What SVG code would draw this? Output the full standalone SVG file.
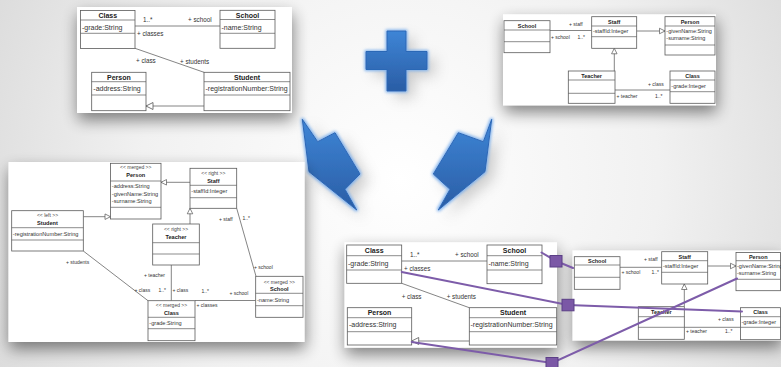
<svg xmlns="http://www.w3.org/2000/svg" width="781" height="367" viewBox="0 0 781 367">
  <defs>
    <radialGradient id="bg" cx="400" cy="180" r="470" gradientUnits="userSpaceOnUse">
      <stop offset="0" stop-color="#ffffff"/>
      <stop offset="0.55" stop-color="#f1f1f1"/>
      <stop offset="1" stop-color="#d9d9d9"/>
    </radialGradient>
    <linearGradient id="blue" x1="0" y1="0" x2="0" y2="1">
      <stop offset="0" stop-color="#3e85d6"/>
      <stop offset="1" stop-color="#2a5da5"/>
    </linearGradient>
    <filter id="panelShadow" x="-20%" y="-20%" width="140%" height="150%">
      <feGaussianBlur in="SourceAlpha" stdDeviation="8"/>
      <feOffset dx="1" dy="7"/>
      <feComponentTransfer><feFuncA type="linear" slope="0.48"/></feComponentTransfer>
      <feMerge><feMergeNode/><feMergeNode in="SourceGraphic"/></feMerge>
    </filter>
    <filter id="halo" x="-30%" y="-30%" width="160%" height="160%">
      <feMorphology in="SourceAlpha" operator="dilate" radius="1" result="d"/>
      <feGaussianBlur in="d" stdDeviation="1.8" result="b"/>
      <feFlood flood-color="#7fb2ee"/>
      <feComposite in2="b" operator="in"/>
      <feMerge><feMergeNode/><feMergeNode in="SourceGraphic"/></feMerge>
    </filter>
    <filter id="soft" x="-50%" y="-50%" width="200%" height="200%">
      <feGaussianBlur stdDeviation="7"/>
    </filter>
    <marker id="gen7" markerUnits="userSpaceOnUse" markerWidth="9" markerHeight="9" refX="7" refY="3.5" orient="auto" overflow="visible">
      <path d="M0,0 L7,3.5 L0,7 Z" fill="#fff" stroke="#555" stroke-width="0.8"/>
    </marker>
    <marker id="gen5" markerUnits="userSpaceOnUse" markerWidth="7" markerHeight="7" refX="5.5" refY="2.75" orient="auto" overflow="visible">
      <path d="M0,0 L5.5,2.75 L0,5.5 Z" fill="#fff" stroke="#555" stroke-width="0.7"/>
    </marker>
    <style>
      .panel { fill: #ffffff; }
      .box { fill: #ffffff; stroke: #5a5a5a; stroke-width: 0.8; }
      .sep { fill: none; stroke: #5a5a5a; stroke-width: 0.7; }
      .ln { fill: none; stroke: #666; stroke-width: 0.8; }
      text { font-family: "Liberation Sans", Arial, sans-serif; fill: #333; }
      .ti { font-weight: bold; text-anchor: middle; fill: #222; }
      .st { text-anchor: middle; fill: #444; }
      .big .ti, .big .at { font-size: 7px; }
      .big .lb { font-size: 6.3px; }
      .sm .ti, .sm .at { font-size: 5.5px; }
      .sm .lb { font-size: 5px; }
      .mid .ti, .mid .at { font-size: 5.6px; }
      .mid .st { font-size: 5px; }
      .mid .lb { font-size: 5px; }
      .trace { fill: none; stroke: #7d5ca9; stroke-width: 2; stroke-linecap: round; }
      .pin { fill: #7b58a6; stroke: #5b3f86; stroke-width: 1; }
      .shape { fill: url(#blue); stroke: #2b67b6; stroke-width: 1; }
    </style>
  </defs>

  <!-- backdrop -->
  <rect x="0" y="0" width="781" height="367" fill="url(#bg)"/>

  <!-- soft grey shading under the blue symbols -->
  <g opacity="0.35" filter="url(#soft)">
    <path d="M310,125 L330,148 L345,140 L369,181 L354,196 L364,218 L317,179 Z" fill="#777"/>
    <path d="M500,125 L492,148 L466,140 L441,181 L458,196 L446,218 L493,179 Z" fill="#777"/>
    <path d="M395,38 H414 V58 H435 V76 H414 V98 H395 V76 H374 V58 H395 Z" fill="#777"/>
  </g>

  <!-- plus and the two merge arrows -->
  <g id="plus" filter="url(#halo)">
    <path class="shape" d="M387,31 H406 V51.5 H427 V69.5 H406 V91 H387 V69.5 H366 V51.5 H387 Z"/>
  </g>
  <g id="arrow-left" filter="url(#halo)">
    <path class="shape" d="M302.3,119.3 L317.7,141.7 L335,132.7 L360,174 L345,189.3 L356.7,210 L309,171.7 Z"/>
  </g>
  <g id="arrow-right" filter="url(#halo)">
    <path class="shape" d="M491.7,119.3 L483.3,141.7 L458.3,132.7 L433.3,174 L450,189.3 L438.3,210 L485,171.7 Z"/>
  </g>

  <!-- ===== left source model ===== -->
  <g id="model-left" class="big">
    <rect class="panel" x="77" y="7" width="215" height="106" filter="url(#panelShadow)"/>
    <g id="p1-connectors">
      <path class="ln" d="M135,26 H220"/>
      <path class="ln" d="M135,48.3 L204,72.3"/>
      <path class="ln" d="M204,106 H146" marker-end="url(#gen7)"/>
      <text class="lb" x="143" y="22">1..*</text>
      <text class="lb" x="188" y="22">+ school</text>
      <text class="lb" x="137" y="35.5">+ classes</text>
      <text class="lb" x="136" y="63">+ class</text>
      <text class="lb" x="180" y="64">+ students</text>
    </g>
    <g id="p1-class">
      <rect class="box" x="80.5" y="10.5" width="54.5" height="38"/>
      <path class="sep" d="M80.5,20 h54.5 M80.5,33.3 h54.5"/>
      <text class="ti" x="107.75" y="17.8">Class</text>
      <text class="at" x="82" y="29.5">-grade:String</text>
    </g>
    <g id="p1-school">
      <rect class="box" x="220" y="10.3" width="55" height="38"/>
      <path class="sep" d="M220,19.5 h55 M220,33.3 h55"/>
      <text class="ti" x="247.5" y="17.5">School</text>
      <text class="at" x="221.5" y="29.5">-name:String</text>
    </g>
    <g id="p1-person">
      <rect class="box" x="91.7" y="72.3" width="54.3" height="38.4"/>
      <path class="sep" d="M91.7,81.7 h54.3 M91.7,95 h54.3"/>
      <text class="ti" x="118.85" y="79.6">Person</text>
      <text class="at" x="93.3" y="91.3">-address:String</text>
    </g>
    <g id="p1-student">
      <rect class="box" x="204" y="72.3" width="86" height="38.4"/>
      <path class="sep" d="M204,81.7 h86 M204,95 h86"/>
      <text class="ti" x="247" y="79.6">Student</text>
      <text class="at" x="205.5" y="91.3">-registrationNumber:String</text>
    </g>
  </g>

  <!-- ===== right source model ===== -->
  <g id="model-right" class="sm">
    <rect class="panel" x="503" y="14.3" width="213" height="91" filter="url(#panelShadow)"/>
    <g id="p2-connectors">
      <path class="ln" d="M550,30.5 H591.7"/>
      <path class="ln" d="M636.7,31 H665" marker-end="url(#gen5)"/>
      <path class="ln" d="M614.3,90 V48.3" marker-end="url(#gen5)"/>
      <path class="ln" d="M615,90 H670"/>
      <text class="lb" x="569" y="26">+ staff</text>
      <text class="lb" x="551" y="38.5">+ school</text>
      <text class="lb" x="577.5" y="38.5">1..*</text>
      <text class="lb" x="648" y="85.5">+ class</text>
      <text class="lb" x="616.5" y="97.5">+ teacher</text>
      <text class="lb" x="655" y="98">1..*</text>
    </g>
    <g id="p2-school">
      <rect class="box" x="504" y="20.7" width="46" height="32"/>
      <path class="sep" d="M504,30 h46 M504,41.7 h46"/>
      <text class="ti" x="527" y="27.6">School</text>
    </g>
    <g id="p2-staff">
      <rect class="box" x="591.7" y="16.7" width="45" height="31.6"/>
      <path class="sep" d="M591.7,26 h45 M591.7,36.7 h45"/>
      <text class="ti" x="614.2" y="23.6">Staff</text>
      <text class="at" x="593" y="33">-staffId:Integer</text>
    </g>
    <g id="p2-person">
      <rect class="box" x="665" y="16.7" width="50" height="38.3"/>
      <path class="sep" d="M665,26 h50 M665,45 h50"/>
      <text class="ti" x="690" y="23.6">Person</text>
      <text class="at" x="666.3" y="33">-givenName:String</text>
      <text class="at" x="666.3" y="40.3">-surname:String</text>
    </g>
    <g id="p2-teacher">
      <rect class="box" x="568.3" y="71" width="46.7" height="32.3"/>
      <path class="sep" d="M568.3,80 h46.7 M568.3,93.3 h46.7"/>
      <text class="ti" x="591.65" y="78">Teacher</text>
    </g>
    <g id="p2-class">
      <rect class="box" x="670" y="71" width="45" height="32.3"/>
      <path class="sep" d="M670,80 h45 M670,91.7 h45"/>
      <text class="ti" x="692.5" y="78">Class</text>
      <text class="at" x="671.3" y="88">-grade:Integer</text>
    </g>
  </g>

  <!-- ===== merged model ===== -->
  <g id="model-merged" class="mid">
    <rect class="panel" x="8.5" y="162" width="296" height="180" filter="url(#panelShadow)"/>
    <g id="p3-connectors">
      <path class="ln" d="M190,182.3 H161" marker-end="url(#gen5)"/>
      <path class="ln" d="M83.3,216.7 H110.5" marker-end="url(#gen5)"/>
      <path class="ln" d="M190,224 V208.3" marker-end="url(#gen5)"/>
      <path class="ln" d="M236.7,208.3 L256,276.3"/>
      <path class="ln" d="M171.3,265 V300.7"/>
      <path class="ln" d="M83.3,251 L148,300.7"/>
      <path class="ln" d="M195,300.5 H255.7"/>
      <text class="lb" x="219" y="221">+ staff</text>
      <text class="lb" x="242.5" y="219.5">1..*</text>
      <text class="lb" x="254" y="268.5">+ school</text>
      <text class="lb" x="144" y="277">+ teacher</text>
      <text class="lb" x="158.5" y="292">1..*</text>
      <text class="lb" x="172.5" y="292">+ class</text>
      <text class="lb" x="66" y="263.5">+ students</text>
      <text class="lb" x="134.5" y="292">+ class</text>
      <text class="lb" x="201.5" y="293">1..*</text>
      <text class="lb" x="229.5" y="295">+ school</text>
      <text class="lb" x="196.5" y="306.5">+ classes</text>
    </g>
    <g id="p3-person">
      <rect class="box" x="110.5" y="163.3" width="50.5" height="55.7"/>
      <path class="sep" d="M110.5,181 h50.5 M110.5,207.3 h50.5"/>
      <text class="st" x="135.75" y="169">&lt;&lt; merged &gt;&gt;</text>
      <text class="ti" x="135.75" y="177">Person</text>
      <text class="at" x="111.8" y="188.3">-address:String</text>
      <text class="at" x="111.8" y="195.8">-givenName:String</text>
      <text class="at" x="111.8" y="203.3">-surname:String</text>
    </g>
    <g id="p3-staff">
      <rect class="box" x="190" y="168.3" width="46.7" height="40"/>
      <path class="sep" d="M190,185.3 h46.7 M190,197.7 h46.7"/>
      <text class="st" x="213.35" y="175">&lt;&lt; right &gt;&gt;</text>
      <text class="ti" x="213.35" y="182.6">Staff</text>
      <text class="at" x="191.3" y="193.3">-staffId:Integer</text>
    </g>
    <g id="p3-student">
      <rect class="box" x="11.7" y="210.7" width="71.6" height="40.3"/>
      <path class="sep" d="M11.7,227.7 h71.6 M11.7,240 h71.6"/>
      <text class="st" x="47.5" y="217">&lt;&lt; left &gt;&gt;</text>
      <text class="ti" x="47.5" y="224.8">Student</text>
      <text class="at" x="12.8" y="236">-registrationNumber:String</text>
    </g>
    <g id="p3-teacher">
      <rect class="box" x="152.7" y="224" width="46.6" height="41"/>
      <path class="sep" d="M152.7,242.7 h46.6 M152.7,254 h46.6"/>
      <text class="st" x="176" y="230.6">&lt;&lt; right &gt;&gt;</text>
      <text class="ti" x="176" y="239">Teacher</text>
    </g>
    <g id="p3-school">
      <rect class="box" x="255.7" y="276.3" width="47.3" height="41"/>
      <path class="sep" d="M255.7,293.3 h47.3 M255.7,305.7 h47.3"/>
      <text class="st" x="279.35" y="283.5">&lt;&lt; merged &gt;&gt;</text>
      <text class="ti" x="279.35" y="291">School</text>
      <text class="at" x="257" y="301.6">-name:String</text>
    </g>
    <g id="p3-class">
      <rect class="box" x="148" y="300.7" width="47" height="40"/>
      <path class="sep" d="M148,317.3 h47 M148,328.7 h47"/>
      <text class="st" x="171.5" y="306.8">&lt;&lt; merged &gt;&gt;</text>
      <text class="ti" x="171.5" y="314.5">Class</text>
      <text class="at" x="149.3" y="325">-grade:String</text>
    </g>
  </g>

  <!-- ===== left model, traced copy ===== -->
  <g id="trace-left" class="big">
    <rect class="panel" x="344.6" y="242.3" width="212.4" height="105.4" filter="url(#panelShadow)"/>
    <g id="p4-connectors">
      <path class="ln" d="M401.7,261 H487"/>
      <path class="ln" d="M401.7,283.3 L469.3,307.7"/>
      <path class="ln" d="M469.3,341 H411.7" marker-end="url(#gen7)"/>
      <text class="lb" x="410" y="256.5">1..*</text>
      <text class="lb" x="455" y="256.5">+ school</text>
      <text class="lb" x="404" y="270.5">+ classes</text>
      <text class="lb" x="401.7" y="298.5">+ class</text>
      <text class="lb" x="446.7" y="298.5">+ students</text>
    </g>
    <g id="p4-class">
      <rect class="box" x="346.7" y="245" width="55" height="38.3"/>
      <path class="sep" d="M346.7,255.7 h55 M346.7,270 h55"/>
      <text class="ti" x="374.2" y="252.8">Class</text>
      <text class="at" x="348" y="265.5">-grade:String</text>
    </g>
    <g id="p4-school">
      <rect class="box" x="487" y="245" width="55" height="38.7"/>
      <path class="sep" d="M487,255.7 h55 M487,270 h55"/>
      <text class="ti" x="514.5" y="252.8">School</text>
      <text class="at" x="488.5" y="265.5">-name:String</text>
    </g>
    <g id="p4-person">
      <rect class="box" x="347.3" y="307.7" width="64.4" height="37.3"/>
      <path class="sep" d="M347.3,317.7 h64.4 M347.3,331.7 h64.4"/>
      <text class="ti" x="379.5" y="315.2">Person</text>
      <text class="at" x="349" y="327.3">-address:String</text>
    </g>
    <g id="p4-student">
      <rect class="box" x="469.3" y="307.7" width="87.4" height="37.3"/>
      <path class="sep" d="M469.3,317.7 h87.4 M469.3,331.7 h87.4"/>
      <text class="ti" x="513" y="315.2">Student</text>
      <text class="at" x="470.5" y="327.3">-registrationNumber:String</text>
    </g>
  </g>

  <!-- ===== right model, traced copy ===== -->
  <g id="trace-right" class="sm">
    <rect class="panel" x="572.6" y="250.5" width="208.4" height="90" filter="url(#panelShadow)"/>
    <g id="p5-connectors">
      <path class="ln" d="M620,267.3 H661.7"/>
      <path class="ln" d="M707.7,266 H736" marker-end="url(#gen5)"/>
      <path class="ln" d="M684.3,306.7 V284" marker-end="url(#gen5)"/>
      <path class="ln" d="M684.3,327.3 H740.5"/>
      <text class="lb" x="644" y="261">+ staff</text>
      <text class="lb" x="621.5" y="274">+ school</text>
      <text class="lb" x="651.5" y="274">1..*</text>
      <text class="lb" x="718" y="321">+ class</text>
      <text class="lb" x="686" y="332.5">+ teacher</text>
      <text class="lb" x="725" y="332.5">1..*</text>
    </g>
    <g id="p5-school">
      <rect class="box" x="574.3" y="256.7" width="45.7" height="32.6"/>
      <path class="sep" d="M574.3,265 h45.7 M574.3,277.3 h45.7"/>
      <text class="ti" x="597.15" y="263">School</text>
    </g>
    <g id="p5-staff">
      <rect class="box" x="661.7" y="251.7" width="46" height="32.3"/>
      <path class="sep" d="M661.7,260.7 h46 M661.7,272.3 h46"/>
      <text class="ti" x="684.7" y="258.6">Staff</text>
      <text class="at" x="663" y="268.3">-staffId:Integer</text>
    </g>
    <g id="p5-person">
      <rect class="box" x="736" y="252.5" width="44.5" height="38.2"/>
      <path class="sep" d="M736,260.7 h44.5 M736,279.3 h44.5"/>
      <text class="ti" x="758.25" y="258.6">Person</text>
      <text class="at" x="737" y="268">-givenName:String</text>
      <text class="at" x="737" y="275">-surname:String</text>
    </g>
    <g id="p5-teacher">
      <rect class="box" x="638.3" y="306.7" width="46" height="32.6"/>
      <path class="sep" d="M638.3,316.7 h46 M638.3,327.3 h46"/>
      <text class="ti" x="661.3" y="314.3">Teacher</text>
    </g>
    <g id="p5-class">
      <rect class="box" x="740.5" y="307.7" width="40" height="32"/>
      <path class="sep" d="M740.5,316.7 h40 M740.5,327.3 h40"/>
      <text class="ti" x="760.5" y="314.3">Class</text>
      <text class="at" x="741.5" y="324">-grade:Integer</text>
    </g>
  </g>

  <!-- correspondence traces between the two copies -->
  <g id="traces">
    <path class="trace" d="M541.5,252.5 L556,261 L573,268"/>
    <path class="trace" d="M401.7,272 L568,305 L742,311.5"/>
    <path class="trace" d="M411.7,342 L552,363 L737,278.5"/>
    <rect class="pin" x="550" y="255.5" width="12" height="11.5"/>
    <rect class="pin" x="562" y="299.3" width="12" height="11.5"/>
    <rect class="pin" x="546" y="357.5" width="12" height="11.5"/>
  </g>
</svg>
